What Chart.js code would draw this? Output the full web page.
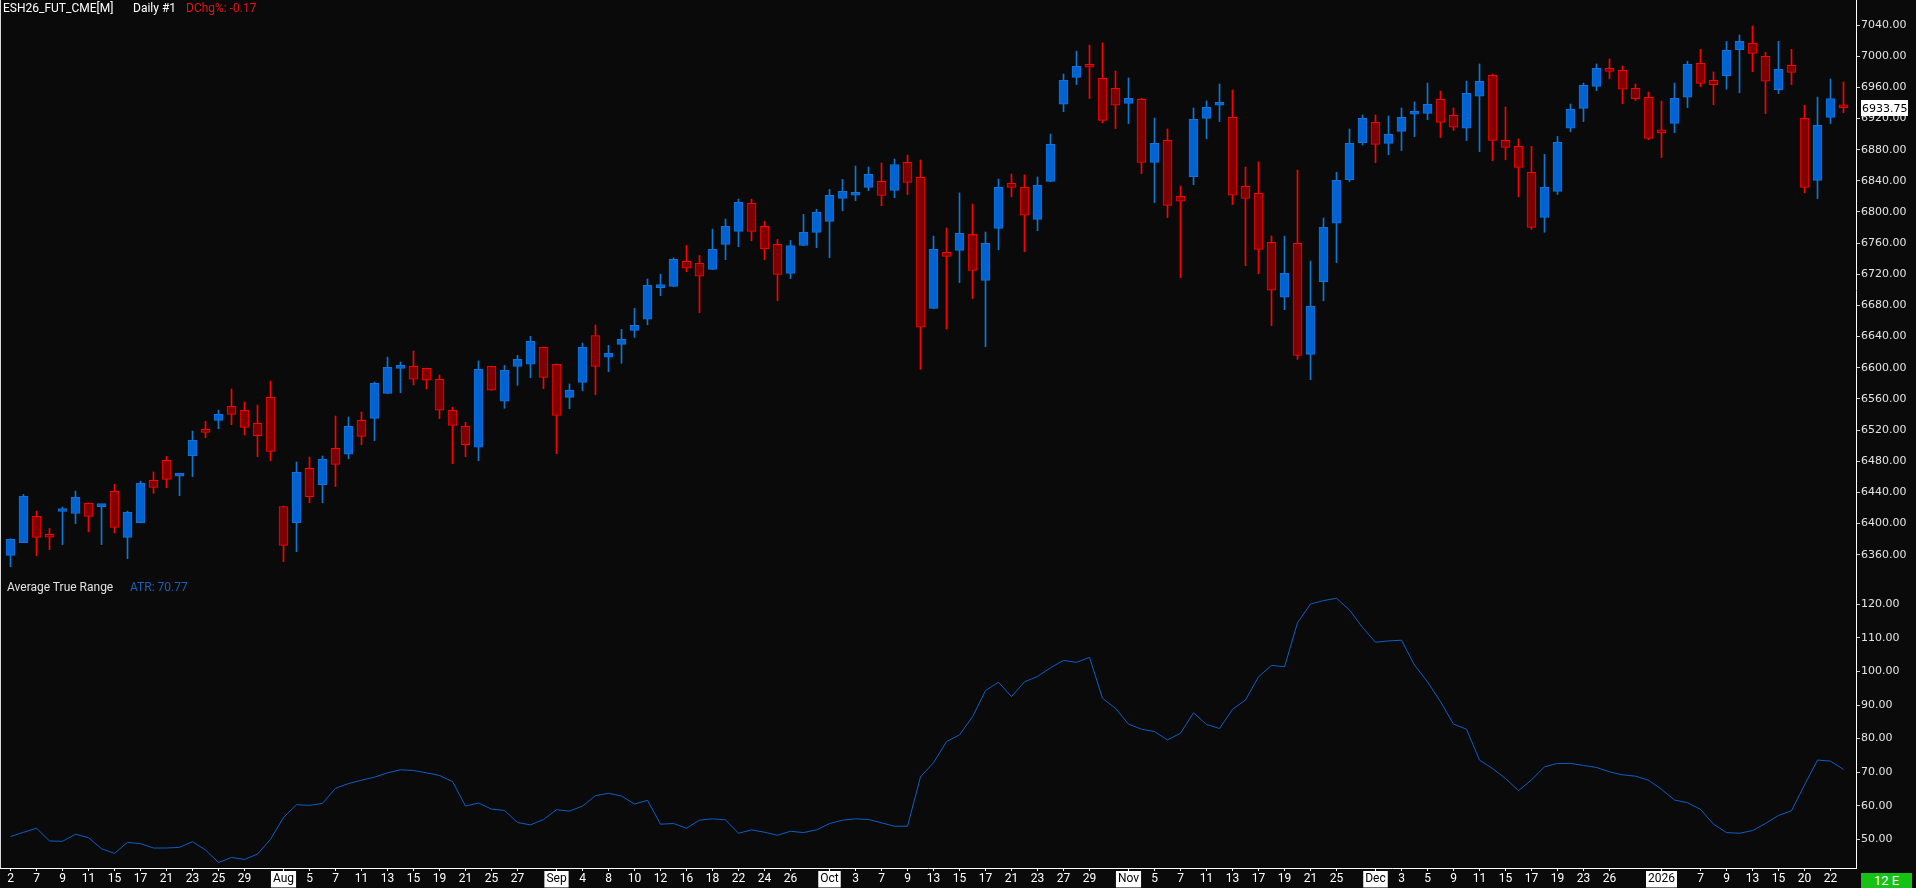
<!DOCTYPE html>
<html>
<head>
<meta charset="utf-8">
<title>ESH26_FUT_CME Daily</title>
<script src="https://cdn.jsdelivr.net/npm/chart.js@4.4.1/dist/chart.umd.min.js"></script>
<style>
  html, body { margin: 0; padding: 0; background: #0b0a0b; overflow: hidden; }
  #wrap { position: relative; width: 1916px; height: 888px; background: #0b0a0b; }
  canvas { position: absolute; left: 0; }
  #priceChart { top: 0; }
  #atrChart { top: 580px; }
  .txt { position: absolute; font: 12px Roboto, "Liberation Sans", sans-serif; line-height: 14px; white-space: pre; }
  #badge { position: absolute; left: 1861px; top: 873px; width: 51px; height: 15px; background: #16c216;
           color: #fff; font: 13px Roboto, sans-serif; line-height: 15px; text-align: center; }
</style>
</head>
<body>
<div id="wrap">
  <canvas id="priceChart" width="1916" height="580"></canvas>
  <canvas id="atrChart" width="1916" height="308"></canvas>
  <div class="txt" style="left:3px;top:1px;color:#ffffff">ESH26_FUT_CME[M]</div>
  <div class="txt" style="left:133px;top:1px;color:#ffffff">Daily #1</div>
  <div class="txt" style="left:186px;top:1px;color:#e31212">DChg%: -0.17</div>
  <div class="txt" style="left:7px;top:580px;color:#e2e2e2">Average True Range</div>
  <div class="txt" style="left:130px;top:580px;color:#1a5fb8">ATR: 70.77</div>
  <div id="badge">12 E</div>
</div>
<script>
// daily bars, Jul 2 2025 .. Jan 23 2026 (142 sessions)
const opens = [
  6359.25, 6375.5, 6409.25, 6383, 6415.5, 6413, 6426, 6421.75, 6441.5, 6382.25,
  6401.25, 6455.5, 6481.25, 6461, 6487.25, 6519.75, 6532.5, 6550.5, 6545.5, 6528.75,
  6562, 6422, 6401.25, 6471, 6450, 6496.5, 6489, 6532.5, 6535, 6567.25,
  6599.25, 6601.75, 6599.25, 6585.25, 6545.5, 6524.75, 6498, 6601.75, 6557, 6601.75,
  6604.5, 6626.25, 6604.5, 6562, 6581.25, 6641.5, 6613.5, 6630, 6648, 6662.25,
  6703, 6704.5, 6736.5, 6734, 6726.25, 6758.5, 6775, 6811, 6781.5, 6758.5,
  6721.25, 6757, 6773.75, 6788, 6817.5, 6821.5, 6831.5, 6839.25, 6827.75, 6863.75,
  6844.5, 6676.25, 6748.25, 6750.75, 6771.25, 6712.25, 6779, 6836.75, 6831.5, 6790.5,
  6839.25, 6938.25, 6972.75, 6988.25, 6971.5, 6958.75, 6939.5, 6944.5, 6863.75, 6892,
  6820, 6845.25, 6920.25, 6937, 6921.5, 6833, 6824, 6761, 6690.5, 6759.75,
  6617.25, 6710.5, 6785.5, 6841.5, 6889, 6915, 6888, 6903.5, 6925.5, 6926.5,
  6944.5, 6924, 6907.5, 6948.5, 6975.5, 6892, 6884.25, 6851, 6793, 6826.5,
  6907.5, 6933, 6961.25, 6982.25, 6981.75, 6958.75, 6947.25, 6902.75, 6913.75, 6947.25,
  6990.75, 6969, 6975, 7008.25, 7016.5, 6999.75, 6957, 6988.25, 6920.25, 6840.5,
  6921.5, 6935.25
];
const highs = [
  6380.5, 6437.5, 6416, 6394, 6421.25, 6441.75, 6426.5, 6422.5, 6450.5, 6416,
  6454.5, 6466.25, 6486.25, 6462, 6518.75, 6531.25, 6545.75, 6572.75, 6556, 6552.25,
  6583, 6422.5, 6479, 6485.5, 6486.75, 6538, 6536.75, 6543.25, 6581.75, 6613.75,
  6607.5, 6621.5, 6599.5, 6590.75, 6549.25, 6530, 6608.75, 6602, 6603, 6616,
  6640.5, 6626.5, 6605, 6579.25, 6631.75, 6655, 6628.75, 6649.25, 6676.25, 6714,
  6720.25, 6741, 6757, 6744.25, 6778, 6791, 6816.5, 6816.5, 6788, 6764.75,
  6763.5, 6797, 6803.5, 6829, 6842, 6859, 6857.75, 6862.75, 6868, 6873,
  6866.75, 6769, 6779.5, 6824.5, 6810.25, 6774.25, 6842.25, 6848.75, 6847.5, 6845,
  6900, 6977, 7006.5, 7014.25, 7017, 6981, 6972, 6946, 6920.5, 6906.5,
  6833.25, 6933.5, 6942.5, 6964.25, 6956.5, 6857.75, 6864.25, 6769.25, 6769, 6853.75,
  6737, 6792.25, 6851, 6906.5, 6924.5, 6924.5, 6923.25, 6933.5, 6941.25, 6965.5,
  6955.25, 6933.5, 6968, 6990, 6977, 6934.75, 6893.75, 6884.25, 6874, 6897,
  6938.5, 6965.5, 6990, 6996.5, 6987.5, 6964.25, 6954, 6942.5, 6965.5, 6993.5,
  7008.75, 6979.75, 7019, 7027.25, 7038.75, 7005, 7019, 7008.75, 6937, 6947.5,
  6970.75, 6966.75
];
const lows = [
  6344.75, 6375.5, 6358.75, 6366.5, 6373, 6400, 6389.5, 6373, 6388, 6355,
  6401, 6438.75, 6446, 6435.75, 6460.25, 6510.25, 6521.75, 6527, 6513.75, 6486,
  6480.75, 6351, 6364, 6426.75, 6426.75, 6447.5, 6483.25, 6501.25, 6506.5, 6567,
  6568, 6578, 6572.75, 6534.75, 6477, 6486, 6480.75, 6571, 6548, 6577.5,
  6587.25, 6573.25, 6489.75, 6547.5, 6570.5, 6565.5, 6595, 6605.75, 6639, 6655.25,
  6692.5, 6704, 6723.25, 6670.75, 6726, 6738.75, 6755.5, 6763, 6738.75, 6686,
  6714.5, 6756.75, 6754.25, 6741.25, 6801.5, 6814.5, 6827.25, 6808, 6818.25, 6822.25,
  6598, 6676, 6649.75, 6709.25, 6688.75, 6627, 6751.5, 6819.5, 6749, 6776,
  6839, 6928.75, 6963.5, 6945.5, 6914.5, 6907, 6913.5, 6849.25, 6812, 6792.75,
  6715.75, 6835, 6894, 6916, 6809.5, 6731, 6720.75, 6654, 6674.5, 6610.75,
  6584.75, 6686, 6735, 6839, 6886, 6863.25, 6873.5, 6878.75, 6896.75, 6918.5,
  6895.5, 6904.5, 6891.5, 6877.5, 6866, 6867, 6819.5, 6777.75, 6774, 6822.5,
  6903, 6916, 6955.75, 6971, 6939, 6943, 6892.75, 6869.75, 6901.75, 6934,
  6960.75, 6937.75, 6957.5, 6953, 6980, 6926.25, 6952, 6963.5, 6824.75, 6817,
  6913.5, 6927.5
];
const closes = [
  6379.75, 6435, 6382.25, 6382.5, 6416, 6433.75, 6409.25, 6422.25, 6395.25, 6414.5,
  6451.75, 6446.5, 6456.75, 6461.5, 6506.75, 6517, 6540.25, 6540.25, 6523.5, 6512.75,
  6492.75, 6372, 6465.75, 6434.5, 6482.5, 6476, 6524.75, 6512, 6580, 6600.5,
  6603, 6585.25, 6584, 6545.5, 6526, 6501.25, 6598, 6571.25, 6596.75, 6610.75,
  6634, 6587.75, 6539, 6571, 6626.25, 6601.75, 6618.5, 6636.5, 6654.5, 6705.75,
  6704.5, 6739.25, 6728, 6717.5, 6752, 6781.5, 6812.25, 6775, 6752.5, 6720,
  6757, 6773.75, 6799.5, 6821.25, 6826.5, 6823, 6848.25, 6821.25, 6861, 6838,
  6652, 6752, 6743, 6772.5, 6725, 6759.75, 6831.5, 6831.5, 6795.75, 6834.25,
  6886.75, 6969, 6987, 6985.75, 6917.5, 6937, 6946, 6863.75, 6888, 6808.5,
  6813.75, 6919, 6934.25, 6938.5, 6821.5, 6817.5, 6752, 6699.5, 6721.25, 6616,
  6678.75, 6780.25, 6840.5, 6888, 6920.25, 6886.75, 6899.75, 6921.5, 6927, 6938.25,
  6915, 6908.75, 6952.25, 6967.75, 6892, 6883, 6857.25, 6780.25, 6831.5, 6889.5,
  6931.75, 6962.5, 6984.5, 6980.5, 6957.5, 6945.5, 6894.5, 6901.5, 6946, 6989.5,
  6965, 6963.5, 7007.5, 7019, 7003.5, 6967.75, 6983, 6979.25, 6831.5, 6911.25,
  6945.5, 6933.75
];
const atrValues = [
  50.8, 52.1, 53.3, 49.5, 49.4, 51.5, 50.5, 47.2, 45.8, 49.1,
  48.7, 47.4, 47.4, 47.6, 49.3, 46.8, 43.1, 44.6, 44.0, 45.6,
  50.0, 56.5, 60.3, 60.1, 60.7, 65.2, 66.6, 67.6, 68.5, 69.8,
  70.7, 70.5, 69.8, 69.0, 67.2, 59.9, 60.8, 59.0, 58.6, 55.0,
  54.3, 55.9, 58.8, 58.4, 59.9, 63.0, 63.7, 62.9, 60.5, 61.6,
  54.5, 54.7, 53.3, 55.7, 56.1, 55.8, 51.8, 52.8, 52.1, 51.2,
  52.4, 52.0, 52.8, 54.7, 55.7, 56.1, 55.9, 54.9, 53.9, 53.9,
  68.6, 72.8, 79.1, 81.1, 86.5, 94.3, 96.8, 92.5, 96.9, 98.5,
  101.1, 103.3, 102.7, 104.2, 92.0, 89.0, 84.3, 82.8, 82.1, 79.6,
  81.6, 87.7, 84.2, 83.0, 88.7, 91.5, 98.4, 101.8, 101.4, 114.5,
  120.1, 121.1, 121.8, 118.3, 113.1, 108.7, 109.1, 109.3, 101.9, 96.9,
  91.0, 84.3, 82.8, 73.6, 71.1, 68.1, 64.5, 67.7, 71.6, 72.6,
  72.6, 72.0, 71.4, 70.1, 69.2, 68.8, 67.6, 64.9, 61.7, 60.9,
  58.9, 54.5, 52.0, 51.8, 52.6, 54.7, 57.1, 58.5, 66.2, 73.6,
  73.3, 70.8
];

// bottom axis: bar index of each date label and its text
const dateTickIdx = [
  0, 2, 4, 6, 8, 10, 12, 14, 16, 18,
  21, 23, 25, 27, 29, 31, 33, 35, 37, 39,
  42, 44, 46, 48, 50, 52, 54, 56, 58, 60,
  63, 65, 67, 69, 71, 73, 75, 77, 79, 81, 83,
  86, 88, 90, 92, 94, 96, 98, 100, 102,
  105, 107, 109, 111, 113, 115, 117, 119, 121, 123,
  127, 130, 132, 134, 136, 138, 140
];
const dateTickText = [
  '2', '7', '9', '11', '15', '17', '21', '23', '25', '29',
  'Aug', '5', '7', '11', '13', '15', '19', '21', '25', '27',
  'Sep', '4', '8', '10', '12', '16', '18', '22', '24', '26',
  'Oct', '3', '7', '9', '13', '15', '17', '21', '23', '27', '29',
  'Nov', '5', '7', '11', '13', '17', '19', '21', '25',
  'Dec', '3', '5', '9', '11', '15', '17', '19', '23', '26',
  '2026', '7', '9', '13', '15', '20', '22'
];
const monthLabels = ['Aug', 'Sep', 'Oct', 'Nov', 'Dec', '2026'];
const priceTicks = [6360, 6400, 6440, 6480, 6520, 6560, 6600, 6640, 6680, 6720, 6760, 6800, 6840, 6880, 6920, 6960, 7000, 7040];
const atrTicks = [50, 60, 70, 80, 90, 100, 110, 120];

const idx = closes.map((c, i) => i);
const isUp = closes.map((c, i) => c >= opens[i]);

// bar i is centred on pixel 10.5 + 13 * i, plot area ends at x = 1856
const xMin = -10.5 / 13;
const xMax = (1856 - 10.5) / 13;

const axisFont = { family: 'DejaVu Sans', size: 11 };

const edgePlugin = {
  id: 'edge',
  afterDraw(chart) {
    const { ctx, chartArea } = chart;
    ctx.save();
    ctx.strokeStyle = '#d8d8d8';
    ctx.lineWidth = 1;
    ctx.beginPath();
    ctx.moveTo(0.5, chartArea.top);
    ctx.lineTo(0.5, chartArea.bottom);
    ctx.stroke();
    ctx.restore();
  }
};

// white box with the last price on the right axis
const lastPricePlugin = {
  id: 'lastPrice',
  afterDraw(chart) {
    const last = closes[closes.length - 1];
    const y = Math.round(chart.scales.y.getPixelForValue(last));
    const ctx = chart.ctx;
    ctx.save();
    ctx.fillStyle = '#ffffff';
    ctx.fillRect(1861, y - 8, 47, 16);
    ctx.fillStyle = '#000000';
    ctx.font = '11px "DejaVu Sans"';
    ctx.textBaseline = 'middle';
    ctx.fillText(last.toFixed(2), 1862, y + 1);
    ctx.restore();
  }
};

new Chart(document.getElementById('priceChart'), {
  type: 'bar',
  data: {
    datasets: [
      {
        label: 'Body',
        data: idx.map(i => ({ x: i, y: [opens[i], closes[i]] })),
        backgroundColor: isUp.map(u => u ? '#0063d1' : '#800000'),
        borderColor: isUp.map(u => u ? '#1273d8' : '#ff0000'),
        borderWidth: 1,
        borderSkipped: false,
        barThickness: 9,
        minBarLength: 3,
        grouped: false,
        order: 0
      },
      {
        label: 'Wick',
        data: idx.map(i => ({ x: i, y: [lows[i], highs[i]] })),
        backgroundColor: isUp.map(u => u ? '#0a78d0' : '#ff0000'),
        borderWidth: 0,
        barThickness: 1,
        grouped: false,
        order: 1
      }
    ]
  },
  options: {
    responsive: false,
    animation: false,
    events: [],
    layout: { padding: 0 },
    plugins: { legend: { display: false }, tooltip: { enabled: false } },
    scales: {
      x: { type: 'linear', display: false, offset: false, grid: { offset: false }, min: xMin, max: xMax },
      y: {
        position: 'right',
        min: 6327.6,
        max: 7072.1,
        afterBuildTicks: s => { s.ticks = priceTicks.map(v => ({ value: v })); },
        afterFit: s => { s.width = 60; s.paddingTop = 0; s.paddingBottom = 0; },
        grid: { display: true, drawOnChartArea: false, tickLength: 4, color: '#cfcfcf' },
        border: { display: true, color: '#ffffff', width: 1 },
        ticks: { color: '#e4e4e4', font: axisFont, padding: 1, callback: v => Number(v).toFixed(2) }
      }
    }
  },
  plugins: [edgePlugin, lastPricePlugin]
});

new Chart(document.getElementById('atrChart'), {
  type: 'line',
  data: {
    datasets: [{
      label: 'ATR',
      data: idx.map(i => ({ x: i, y: atrValues[i] })),
      borderColor: '#0b5fc6',
      borderWidth: 1,
      pointRadius: 0,
      tension: 0,
      fill: false
    }]
  },
  options: {
    responsive: false,
    animation: false,
    events: [],
    layout: { padding: 0 },
    plugins: { legend: { display: false }, tooltip: { enabled: false } },
    scales: {
      x: {
        type: 'linear',
        min: xMin,
        max: xMax,
        offset: false,
        afterBuildTicks: s => { s.ticks = dateTickIdx.map(v => ({ value: v })); },
        afterFit: s => { s.height = 20; s.paddingLeft = 0; s.paddingRight = 0; },
        grid: { display: true, drawOnChartArea: false, tickLength: 3, color: '#ffffff' },
        border: { display: true, color: '#ffffff', width: 1 },
        ticks: {
          autoSkip: false,
          maxRotation: 0,
          padding: 1,
          font: { family: 'Roboto', size: 12 },
          color: c => monthLabels.includes(dateTickText[c.index]) ? '#000000' : '#ffffff',
          showLabelBackdrop: c => monthLabels.includes(dateTickText[c.index]),
          backdropColor: '#ffffff',
          backdropPadding: { left: 2, right: 2, top: 1, bottom: 1 },
          callback: (v, i) => dateTickText[i]
        }
      },
      y: {
        position: 'right',
        min: 41.45,
        max: 127.24,
        afterBuildTicks: s => { s.ticks = atrTicks.map(v => ({ value: v })); },
        afterFit: s => { s.width = 60; s.paddingTop = 0; s.paddingBottom = 0; },
        grid: { display: true, drawOnChartArea: false, tickLength: 4, color: '#cfcfcf' },
        border: { display: true, color: '#ffffff', width: 1 },
        ticks: { color: '#e4e4e4', font: axisFont, padding: 1, callback: v => Number(v).toFixed(2) }
      }
    }
  },
  plugins: [edgePlugin]
});
</script>
</body>
</html>
